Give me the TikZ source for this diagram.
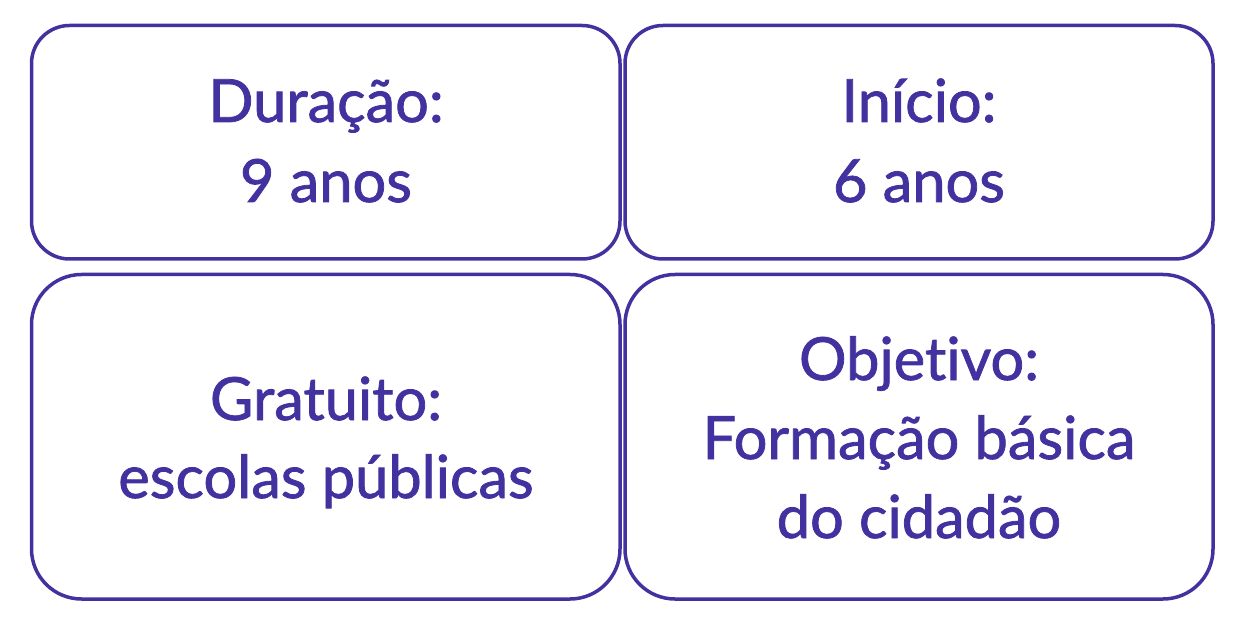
\documentclass[tikz,border=0pt]{standalone}
\usepackage{fontspec}
\setmainfont{Lato}[FakeBold=1.3,RawFeature={-liga}]
\definecolor{boxblue}{RGB}{66,50,160}
\begin{document}
\begin{tikzpicture}[x=1pt,y=-1pt,
  card/.style={draw=boxblue,line width=3.5pt},
  txt/.style={anchor=base,inner sep=0pt,text=boxblue,font=\fontsize{59.5}{70}\selectfont}]
\useasboundingbox (0,0) rectangle (1240,631);
\draw[card,rounded corners=38pt] (31.5,25.5) rectangle (620,259);
\draw[card,rounded corners=38pt] (625,25.5) rectangle (1213,259);
\draw[card,rounded corners=50pt] (31.5,274.5) rectangle (620,599);
\draw[card,rounded corners=50pt] (625,274.5) rectangle (1213,599);
\node[txt] (d1) at (326,122) {Duração:};
\node[txt] (d2) at (326,202) {9 anos};
\node[txt] (i1) at (919,122) {Início:};
\node[txt] (i2) at (919,202) {6 anos};
\node[txt] (g1) at (326,420) {Gratuito:};
\node[txt] (g2) at (326,498) {escolas públicas};
\node[txt] (o1) at (919,380) {Objetivo:};
\node[txt] (o2) at (919,459) {Formação básica};
\node[txt] (o3) at (919,538) {do cidadão};
\end{tikzpicture}
\end{document}
